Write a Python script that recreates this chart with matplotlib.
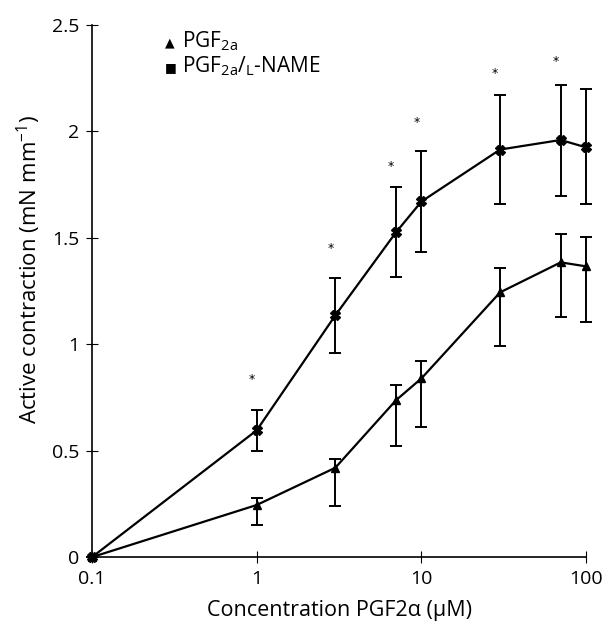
import matplotlib
matplotlib.use("Agg")
import matplotlib.pyplot as plt
import matplotlib.transforms as mtransforms

plt.rcParams['font.family'] = ['Open Sans', 'DejaVu Sans']

# concentrations (uM)
conc = [0.1, 1, 3, 7, 10, 30, 70, 100]

# PGF2a alone
pgf = [0.0, 0.245, 0.42, 0.737, 0.84, 1.244, 1.385, 1.366]
pgf_lo = [0.0, 0.15, 0.24, 0.52, 0.61, 0.99, 1.127, 1.103]
pgf_hi = [0.0, 0.28, 0.46, 0.81, 0.92, 1.357, 1.516, 1.502]

# PGF2a / L-NAME
lname = [0.0, 0.596, 1.136, 1.526, 1.671, 1.915, 1.96, 1.925]
lname_lo = [0.0, 0.497, 0.96, 1.315, 1.432, 1.66, 1.695, 1.66]
lname_hi = [0.0, 0.69, 1.31, 1.74, 1.906, 2.17, 2.22, 2.20]

# significance stars
star_x = [1, 3, 7, 10, 30, 70]
star_y = [0.836, 1.45, 1.836, 2.04, 2.27, 2.33]

fig = plt.figure(figsize=(6.05, 6.26), dpi=100)
ax = fig.add_axes([0.152, 0.110, 0.817, 0.850])

def err(v, lo, hi):
    return [[a - b for a, b in zip(v, lo)], [c - a for a, c in zip(v, hi)]]

for y, lo, hi, mk, ms in [(pgf, pgf_lo, pgf_hi, '^', 6), (lname, lname_lo, lname_hi, 'X', 6.5)]:
    cont = ax.errorbar(conc, y, yerr=err(y, lo, hi), color='black', lw=1.6,
                       marker=mk, ms=ms, capsize=4, capthick=1.4, elinewidth=1.4)
    for art in cont.get_children():
        art.set_clip_on(False)

off = mtransforms.offset_copy(ax.transData, fig=fig, x=-5, y=0, units='dots')
for sx, sy in zip(star_x, star_y):
    ax.text(sx, sy, '*', transform=off, ha='center', va='center', fontsize=9,
            family='DejaVu Sans')

ax.set_xscale('log')
ax.set_xlim(0.1, 100)
ax.set_ylim(0, 2.5)
ax.set_xticks([0.1, 1, 10, 100])
ax.set_xticklabels(['0.1', '1', '10', '100'])
ax.minorticks_off()
ax.set_yticks([0, 0.5, 1, 1.5, 2, 2.5])
ax.set_yticklabels(['0', '0.5', '1', '1.5', '2', '2.5'])
ax.tick_params(direction='inout', length=8, width=0.8, labelsize=14, pad=5)
for s in ['top', 'right']:
    ax.spines[s].set_visible(False)
for s in ['left', 'bottom']:
    ax.spines[s].set_linewidth(1.2)

ax.set_xlabel('Concentration PGF2\u03b1 (\u03bcM)', fontsize=15.5, labelpad=9)
ax.set_ylabel('Active contraction (mN mm$^{\\mathregular{-1}}$)', fontsize=16, labelpad=7)
ax.yaxis.set_label_coords(-0.10, 0.54)

# legend drawn as text
fig.text(0.272, 0.932, '\u25b2', fontsize=9, ha='left', va='center', family='DejaVu Sans')
fig.text(0.300, 0.934, 'PGF$_{\\mathregular{2a}}$', fontsize=15, ha='left', va='center')
fig.text(0.272, 0.892, '\u25a0', fontsize=9, ha='left', va='center', family='DejaVu Sans')
fig.text(0.300, 0.894, 'PGF$_{\\mathregular{2a}}$/$\\mathregular{_{L}}$-NAME', fontsize=15,
         ha='left', va='center')

fig.savefig('out.png', dpi=100)
